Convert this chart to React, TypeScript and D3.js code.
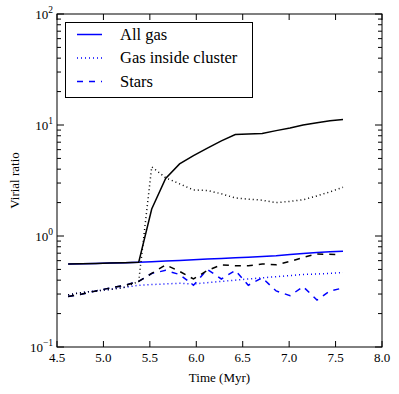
import { useEffect, useRef } from 'react'
import * as d3 from 'd3'

// time samples (Myr)
const times = [4.62, 4.77, 4.92, 5.07, 5.23, 5.38, 5.52, 5.67, 5.82, 5.97, 6.12, 6.27, 6.42, 6.56, 6.71, 6.86, 7.01, 7.15, 7.30, 7.44, 7.58]
const timesStarsCl = [4.62, 4.77, 4.92, 5.07, 5.23, 5.38, 5.52, 5.67, 5.82, 5.97, 6.12, 6.27, 6.42, 6.56, 6.71, 6.86, 7.01, 7.15, 7.30, 7.50]

// blue: whole cloud
const allGas = [0.56, 0.563, 0.566, 0.57, 0.575, 0.58, 0.587, 0.595, 0.603, 0.611, 0.619, 0.627, 0.636, 0.645, 0.655, 0.665, 0.68, 0.695, 0.71, 0.72, 0.73]
const gasInside = [0.295, 0.31, 0.32, 0.33, 0.345, 0.36, 0.365, 0.37, 0.375, 0.37, 0.38, 0.39, 0.40, 0.41, 0.42, 0.43, 0.44, 0.45, 0.455, 0.46, 0.47]
const stars = [0.285, 0.30, 0.32, 0.34, 0.36, 0.39, 0.46, 0.49, 0.45, 0.36, 0.50, 0.41, 0.49, 0.36, 0.42, 0.32, 0.29, 0.35, 0.265, 0.32, 0.34]

// black: cluster
const allGasCl = [0.56, 0.563, 0.566, 0.57, 0.575, 0.58, 1.75, 3.3, 4.46, 5.3, 6.2, 7.2, 8.2, 8.3, 8.4, 8.9, 9.4, 10.0, 10.5, 10.9, 11.2]
const gasInsideCl = [0.295, 0.31, 0.32, 0.33, 0.345, 0.39, 4.2, 3.35, 2.95, 2.6, 2.57, 2.4, 2.2, 2.15, 2.1, 2.0, 2.05, 2.12, 2.3, 2.5, 2.75]
const starsCl = [0.285, 0.30, 0.32, 0.34, 0.36, 0.39, 0.46, 0.55, 0.48, 0.41, 0.49, 0.55, 0.54, 0.54, 0.56, 0.55, 0.59, 0.64, 0.69, 0.68]

const xTicks = [4.5, 5.0, 5.5, 6.0, 6.5, 7.0, 7.5, 8.0]
const yExps = [-1, 0, 1, 2]
const legendLabels = ['All gas', 'Gas inside cluster', 'Stars']

const W = 399, H = 394
const FONT = '"Liberation Serif", serif'
const BLUE = '#0000ff'
const DASH = { solid: null, dotted: '1,3', dashed: '6,6' }

export default function App() {
  const ref = useRef<SVGSVGElement>(null)

  useEffect(() => {
    const svg = d3.select(ref.current)
    svg.selectAll('*').remove()

    const L = 57, R = 382, T = 14, B = 347
    const x = d3.scaleLinear().domain([4.5, 8.0]).range([L, R])
    const y = d3.scaleLog().domain([0.1, 100]).range([B, T])

    const g = svg.append('g')

    // ── series ──
    const series = [
      { t: times, v: allGas, c: BLUE, d: DASH.solid },
      { t: times, v: gasInside, c: BLUE, d: DASH.dotted },
      { t: times, v: stars, c: BLUE, d: DASH.dashed },
      { t: times, v: allGasCl, c: '#000', d: DASH.solid },
      { t: times, v: gasInsideCl, c: '#000', d: DASH.dotted },
      { t: timesStarsCl, v: starsCl, c: '#000', d: DASH.dashed },
    ]
    const line = d3.line<[number, number]>().x(d => x(d[0])).y(d => y(d[1]))
    series.forEach(s => {
      g.append('path')
        .attr('d', line(s.t.map((t, i) => [t, s.v[i]] as [number, number])))
        .attr('fill', 'none')
        .attr('stroke', s.c)
        .attr('stroke-width', 1.5)
        .attr('stroke-dasharray', s.d)
    })

    // ── frame + ticks ──
    g.append('rect').attr('x', L).attr('y', T).attr('width', R - L).attr('height', B - T)
      .attr('fill', 'none').attr('stroke', '#000').attr('stroke-width', 1)

    xTicks.forEach(v => {
      const px = x(v)
      g.append('line').attr('x1', px).attr('x2', px).attr('y1', B).attr('y2', B - 6).attr('stroke', '#000')
      g.append('line').attr('x1', px).attr('x2', px).attr('y1', T).attr('y2', T + 6).attr('stroke', '#000')
      g.append('text').attr('x', px).attr('y', B + 15).attr('text-anchor', 'middle')
        .attr('font-family', FONT).attr('font-size', 13).text(d3.format('.1f')(v))
    })

    yExps.forEach(e => {
      const py = y(Math.pow(10, e))
      g.append('line').attr('x1', L).attr('x2', L + 7).attr('y1', py).attr('y2', py).attr('stroke', '#000')
      g.append('line').attr('x1', R).attr('x2', R - 7).attr('y1', py).attr('y2', py).attr('stroke', '#000')
      if (e < 2) {
        for (let k = 2; k <= 9; k++) {
          const my = y(k * Math.pow(10, e))
          g.append('line').attr('x1', L).attr('x2', L + 4).attr('y1', my).attr('y2', my).attr('stroke', '#000')
          g.append('line').attr('x1', R).attr('x2', R - 4).attr('y1', my).attr('y2', my).attr('stroke', '#000')
        }
      }
      const txt = g.append('text').attr('x', L - 4).attr('y', py + 5).attr('text-anchor', 'end')
        .attr('font-family', FONT).attr('font-size', 13)
      txt.append('tspan').text('10')
      txt.append('tspan').attr('dy', -6).attr('font-size', 9.5).text(e < 0 ? '−' + (-e) : String(e))
    })

    // axis labels
    g.append('text').attr('x', (L + R) / 2).attr('y', B + 35).attr('text-anchor', 'middle')
      .attr('font-family', FONT).attr('font-size', 13).text('Time (Myr)')
    g.append('text').attr('transform', `translate(19,${(T + B) / 2}) rotate(-90)`).attr('text-anchor', 'middle')
      .attr('font-family', FONT).attr('font-size', 13).text('Virial ratio')

    // ── legend ──
    const lg = g.append('g')
    lg.append('rect').attr('x', 65.5).attr('y', 22.5).attr('width', 187).attr('height', 75)
      .attr('fill', '#fff').attr('stroke', '#000').attr('stroke-width', 1)
    const dashes = [DASH.solid, DASH.dotted, DASH.dashed]
    legendLabels.forEach((lab, i) => {
      const ly = 34.5 + i * 23.5
      lg.append('line').attr('x1', 77).attr('x2', 102).attr('y1', ly).attr('y2', ly)
        .attr('stroke', BLUE).attr('stroke-width', 1.5).attr('stroke-dasharray', dashes[i])
      lg.append('text').attr('x', 120).attr('y', ly + 5).attr('font-family', FONT).attr('font-size', 16.5).text(lab)
    })
  }, [])

  return <svg ref={ref} width={W} height={H} style={{ position: 'absolute', left: 0, top: 0, background: '#fff' }} />
}
